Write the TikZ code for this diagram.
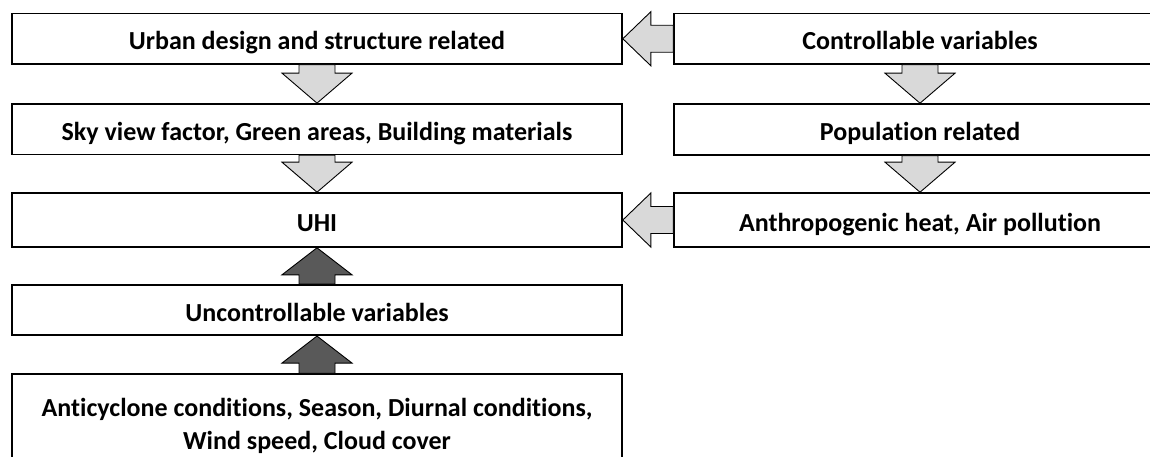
\documentclass[tikz,border=0pt]{standalone}
\usepackage{fontspec}
\setmainfont{Carlito}[Ligatures={NoCommon}]
\usetikzlibrary{calc}

\definecolor{lightfill}{HTML}{D9D9D9}
\definecolor{darkfill}{HTML}{595959}

% Block arrows between boxes
\newcommand\dnblock[2]{%
  \draw[lightarr] let \p1=(#1.south), \p2=(#2.north) in
    (\x1-18pt,\y1) -- (\x1-18pt,\y2+30pt) -- (\x1-35pt,\y2+30pt) -- (\x1,\y2)
    -- (\x1+35pt,\y2+30pt) -- (\x1+18pt,\y2+30pt) -- (\x1+18pt,\y1) -- cycle;}
\newcommand\upblock[2]{%
  \draw[darkarr] let \p1=(#1.north), \p2=(#2.south) in
    (\x1-18pt,\y1) -- (\x1-18pt,\y2-27pt) -- (\x1-35pt,\y2-27pt) -- (\x1,\y2)
    -- (\x1+35pt,\y2-27pt) -- (\x1+18pt,\y2-27pt) -- (\x1+18pt,\y1) -- cycle;}
\newcommand\ltblock[2]{%
  \draw[lightarr] let \p1=(#1.west), \p2=(#2.east) in
    (\x1,\y1-13.5pt) -- (\x2+28pt,\y1-13.5pt) -- (\x2+28pt,\y1-27pt) -- (\x2,\y1)
    -- (\x2+28pt,\y1+27pt) -- (\x2+28pt,\y1+13.5pt) -- (\x1,\y1+13.5pt) -- cycle;}

\begin{document}
\begin{tikzpicture}[x=1pt,y=-1pt,
  box/.style={draw=black, line width=1.6pt, fill=white, rectangle, inner sep=0pt,
    align=center, font=\fontsize{26}{33}\selectfont\bfseries},
  oneline/.style={text height=25pt, text depth=3pt},
  leftbox/.style={box, minimum width=610pt},
  rightbox/.style={box, minimum width=492pt},
  lightarr/.style={draw=black, line width=0.9pt, fill=lightfill, line join=miter},
  darkarr/.style={draw=black, line width=0.9pt, fill=darkfill, line join=miter}]
\useasboundingbox (0,0) rectangle (1150,457);
\clip (0,0) rectangle (1150,457);

% left column
\node[leftbox, oneline, minimum height=50.5pt] (urban) at (317,38.75) {Urban design and structure related};
\node[leftbox, oneline, minimum height=50.5pt] (sky) at (317,129.2) {Sky view factor, Green areas, Building materials};
\node[leftbox, oneline, minimum height=54pt] (uhi) at (317,220) {UHI};
\node[leftbox, oneline, minimum height=50.5pt] (unctrl) at (317,310) {Uncontrollable variables};
\node[leftbox, minimum height=104pt] (cond) at (317,426) {Anticyclone conditions, Season, Diurnal conditions,\\Wind speed, Cloud cover};

% right column
\node[rightbox, oneline, minimum height=50.5pt] (ctrl) at (920,38.75) {Controllable variables};
\node[rightbox, oneline, minimum height=51pt] (pop) at (920,129.5) {Population related};
\node[rightbox, oneline, minimum height=54pt] (anth) at (920,220) {Anthropogenic heat, Air pollution};

% connectors
\ltblock{ctrl}{urban}
\ltblock{anth}{uhi}
\dnblock{urban}{sky}
\dnblock{sky}{uhi}
\dnblock{ctrl}{pop}
\dnblock{pop}{anth}
\upblock{unctrl}{uhi}
\upblock{cond}{unctrl}
\end{tikzpicture}
\end{document}
